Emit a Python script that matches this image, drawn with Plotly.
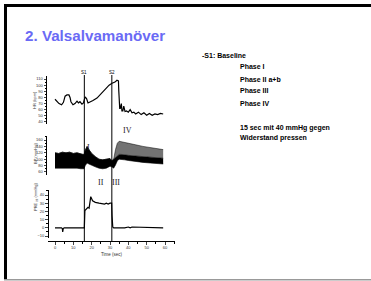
import plotly.graph_objects as go

W, H = 371, 281

# ---------------- data ----------------
hr_t = [0, 1.1, 2.2, 3.6, 4.6, 5.5, 6.5, 7.6, 8.2, 8.7, 9.8, 10.9, 12, 12.8, 13.6, 14.7, 15.5,
        16.4, 17.2, 18, 19, 20.7, 22.9, 25.1, 27.3, 29.5, 31.1, 32.7, 33.8, 34.6, 34.8, 35.0,
        35.3, 35.6, 35.9, 36.2, 36.5, 37.0, 37.5, 38.2, 39, 40, 41, 42, 43, 44, 45.5, 47, 48.5,
        50, 51.5, 53, 54.5, 56, 57.5, 59]
hr_v = [77, 73, 70, 68, 72, 82, 84, 84, 80, 73, 68, 70, 74, 71, 73, 69, 71,
        81, 78, 71, 72, 75, 79, 86, 93, 100, 103, 105, 108, 107, 90, 73,
        62, 62, 70, 70, 58, 58, 66, 57, 58, 56, 60, 55, 56, 53, 56, 52, 55,
        51, 54, 51, 53, 52, 54, 53]

bp_t = [0, 2, 4, 6, 8, 10, 12, 14, 15.8, 16.5, 17.5, 18.5, 20, 22, 24, 26, 28, 30, 31, 32,
        33, 34, 35, 36, 38, 40, 44, 48, 52, 56, 59]
bp_sys = [120, 118, 122, 120, 122, 118, 120, 116, 114, 128, 140, 130, 118, 108, 100, 98, 100,
          102, 95, 100, 130, 150, 156, 155, 152, 150, 145, 140, 136, 133, 130]
bp_dense = [120, 118, 122, 120, 122, 118, 120, 116, 114, 128, 140, 130, 118, 108, 100, 98, 100,
            102, 95, 100, 105, 112, 115, 115, 113, 112, 110, 108, 106, 104, 103]
bp_dia = [72, 72, 74, 72, 73, 72, 72, 70, 70, 80, 88, 85, 80, 76, 72, 70, 72, 78, 76, 72,
          82, 95, 100, 100, 98, 96, 92, 90, 88, 86, 85]

pes_t = [0, 3.5, 4.0, 4.2, 4.5, 5, 10, 15.9, 16.0, 16.3, 17, 18, 18.6, 19.0, 19.5, 20.5, 22, 24,
         26, 27, 28, 29, 30, 30.9, 31.1, 31.5, 32, 38, 40, 41, 42, 59]
pes_v = [0, 0, -1, -5, -1, 0, 0, 0, 0, 21, 23, 25, 24, 34, 38, 33, 31, 30,
         29, 29, 30, 29, 30, 30, 15, 1, 0, 0, 1, 0, 1, 0]

event_t = [16, 31]
event_labels = ["S1", "S2"]

phase_labels = ["I", "II", "III", "IV"]
phase_t = [18.0, 25.0, 33.4, 39.5]

x_ticks = [0, 10, 20, 30, 40, 50, 60]
hr_ticks = [40, 50, 60, 70, 80, 90, 100, 110]
bp_ticks = [60, 80, 100, 120, 140, 160]
pes_ticks = [-10, 0, 10, 20, 30, 40]

title_text = "2. Valsalvamanöver"
side_lines = ["-S1: Baseline", "Phase I", "Phase II a+b", "Phase III", "Phase IV",
              "15 sec mit 40 mmHg gegen", "Widerstand pressen"]

# ---------------- helpers ----------------
def px(xp):
    return xp / W

def py(yp):
    return 1 - yp / H

FONT = "Liberation Sans, Arial, sans-serif"
SERIF = "Liberation Serif, Times New Roman, serif"

fig = go.Figure()

# HR
fig.add_trace(go.Scatter(x=hr_t, y=hr_v, mode="lines", line=dict(color="black", width=1.2),
                         xaxis="x", yaxis="y", showlegend=False))
# BP band
fig.add_trace(go.Scatter(x=bp_t, y=bp_dia, mode="lines", line=dict(color="black", width=0.6),
                         xaxis="x", yaxis="y2", showlegend=False))
fig.add_trace(go.Scatter(x=bp_t, y=bp_dense, mode="lines", line=dict(color="black", width=0.6),
                         fill="tonexty", fillcolor="black",
                         xaxis="x", yaxis="y2", showlegend=False))
fig.add_trace(go.Scatter(x=bp_t, y=bp_sys, mode="lines", line=dict(color="black", width=0.5),
                         fill="tonexty",
                         fillpattern=dict(shape="|", fgcolor="black", bgcolor="#9a9a9a",
                                          size=2.0, solidity=0.5),
                         xaxis="x", yaxis="y2", showlegend=False))
# Pes
fig.add_trace(go.Scatter(x=pes_t, y=pes_v, mode="lines", line=dict(color="black", width=1.2),
                         xaxis="x", yaxis="y3", showlegend=False))

tickfont = dict(family=FONT, size=4, color="#333")

def yaxis(domain_px, rng, ticks, pos_px):
    return dict(domain=[py(domain_px[1]), py(domain_px[0])], range=rng,
                tickvals=ticks, ticks="outside", ticklen=2.5, tickwidth=0.8,
                tickfont=tickfont, showline=True, linecolor="black", linewidth=1,
                showgrid=False, zeroline=False, anchor="free", position=px(pos_px),
                minor=dict(ticks="outside", ticklen=1.5, dtick=5 if ticks[1] - ticks[0] == 10 else 10,
                           tickcolor="black", tickwidth=0.6),
                fixedrange=True)

fig.update_layout(
    width=W, height=H, margin=dict(l=0, r=0, t=0, b=0),
    paper_bgcolor="white", plot_bgcolor="rgba(0,0,0,0)",
    xaxis=dict(domain=[px(48), px(175)], range=[-3.82, 65.45], tickvals=x_ticks,
               ticks="outside", ticklen=2.5, tickwidth=0.8, tickfont=tickfont,
               showline=True, linecolor="black", linewidth=1, showgrid=False, zeroline=False,
               anchor="free", position=py(241),
               minor=dict(ticks="outside", ticklen=1.5, dtick=5, tickcolor="black", tickwidth=0.6),
               title=dict(text="Time (sec)", font=dict(family=FONT, size=4.5, color="#333"),
                          standoff=3)),
    yaxis=yaxis((76, 124), [36.7, 114.9], hr_ticks, 46),
    yaxis2=yaxis((136, 175), [50.6, 172.5], bp_ticks, 46),
    yaxis3=yaxis((190, 238), [-12.4, 46.1], pes_ticks, 47.5),
)

# event lines + labels
for t, lab in zip(event_t, event_labels):
    fig.add_shape(type="line", xref="x", yref="paper", x0=t, x1=t, y0=py(241), y1=py(75),
                  line=dict(color="black", width=1))
    fig.add_annotation(x=t, y=py(72), xref="x", yref="paper", text=lab, showarrow=False,
                       font=dict(family=FONT, size=4.5, color="black"), yanchor="middle")

# phase roman numerals
phase_ypx = [147, 182, 182, 131]
for lab, t, yp in zip(phase_labels, phase_t, phase_ypx):
    fig.add_annotation(x=t, y=py(yp), xref="x", yref="paper", text=lab, showarrow=False,
                       font=dict(family=SERIF, size=8, color="#222"), yanchor="middle")

# axis titles (rotated)
for txt, yc in [("HR (bpm)", 100), ("BP (mmHg)", 154), ("PRE <sub>int</sub> (mmHg)", 213)]:
    fig.add_annotation(x=px(30.5), y=py(yc), xref="paper", yref="paper", text=txt,
                       textangle=-90, showarrow=False,
                       font=dict(family=FONT, size=4, color="#333"))

# title
fig.add_annotation(x=px(23), y=py(35), xref="paper", yref="paper", text="<b>%s</b>" % title_text,
                   showarrow=False, xanchor="left", yanchor="middle",
                   font=dict(family=FONT, size=15.2, color="#6a6af5"))

# side text
side_pos = [(200, 55), (238, 66), (238, 79), (238, 91), (238, 103), (238, 128), (238, 138)]
for txt, (xp, yp) in zip(side_lines, side_pos):
    fig.add_annotation(x=px(xp), y=py(yp), xref="paper", yref="paper", text="<b>%s</b>" % txt,
                       showarrow=False, xanchor="left", yanchor="middle",
                       font=dict(family=FONT, size=7, color="black"))

# slide frame
fig.add_shape(type="rect", xref="paper", yref="paper", x0=px(4), x1=px(371), y0=py(7), y1=py(4),
              fillcolor="black", line=dict(width=0), layer="above")
fig.add_shape(type="rect", xref="paper", yref="paper", x0=px(4), x1=px(7), y0=py(280), y1=py(4),
              fillcolor="black", line=dict(width=0), layer="above")
fig.add_shape(type="rect", xref="paper", yref="paper", x0=px(4), x1=px(371), y0=py(280.5), y1=py(279),
              fillcolor="#999999", line=dict(width=0), layer="above")

fig.write_html("out.html", config={"displayModeBar": False},
               post_script="document.body.style.margin='0';document.body.style.overflow='hidden';")
